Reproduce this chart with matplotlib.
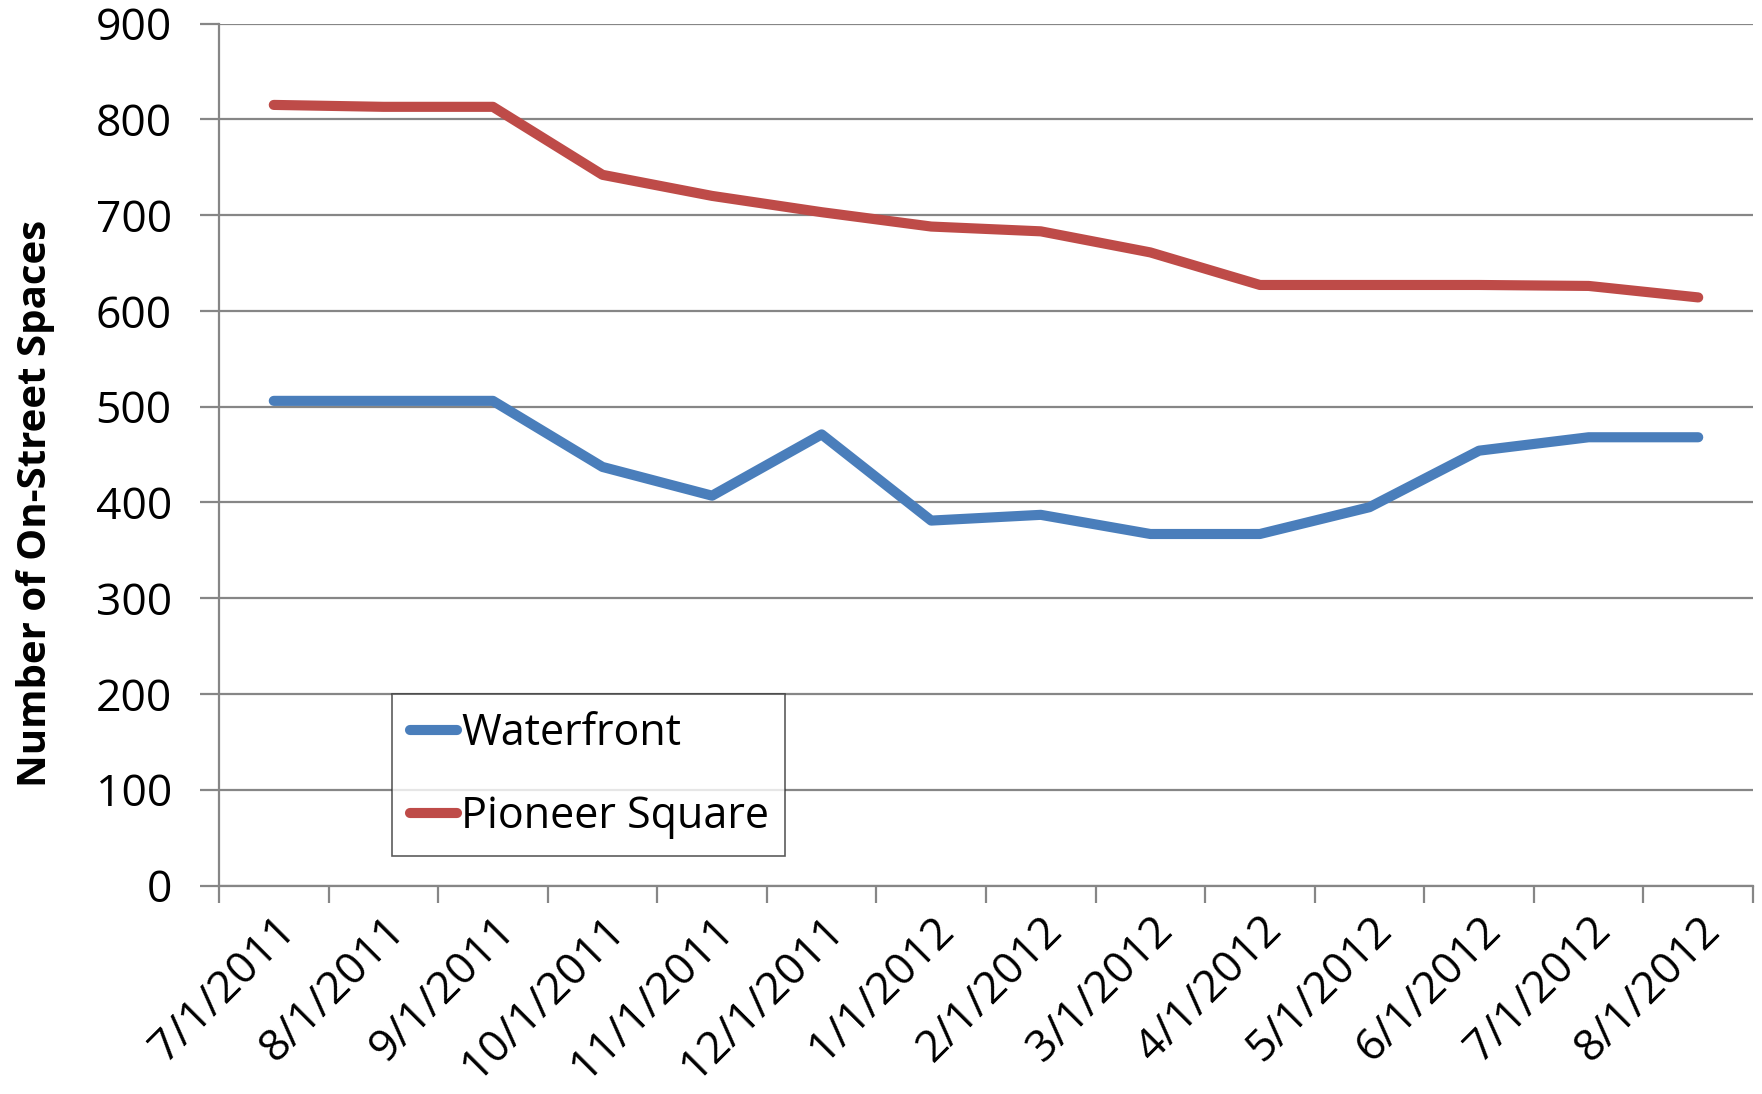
import numpy as np
import matplotlib.pyplot as plt

# data
dates = ["7/1/2011", "8/1/2011", "9/1/2011", "10/1/2011", "11/1/2011", "12/1/2011",
         "1/1/2012", "2/1/2012", "3/1/2012", "4/1/2012", "5/1/2012", "6/1/2012",
         "7/1/2012", "8/1/2012"]
waterfront = [506, 506, 506, 437, 407, 471, 381, 387, 367, 367, 395, 454, 468, 468]
pioneer_square = [815, 813, 813, 742, 720, 703, 688, 683, 661, 627, 627, 627, 626, 614]

plt.rcParams["font.family"] = ["Open Sans", "DejaVu Sans"]

fig = plt.figure(figsize=(17.62, 10.94), dpi=100)
ax = fig.add_axes([219 / 1762, 1 - 885.5 / 1094, 1534 / 1762, 862 / 1094])

x = np.arange(len(dates))
ax.plot(x, waterfront, color="#4A7EBB", linewidth=7.3, solid_capstyle="round",
        label="Waterfront")
ax.plot(x, pioneer_square, color="#BE4B48", linewidth=7.3, solid_capstyle="round",
        label="Pioneer Square")

grid_color = "#868686"
ax.set_xlim(-0.5, len(dates) - 0.5)
ax.set_ylim(0, 900)
ax.set_yticks(range(0, 1000, 100))
ax.yaxis.grid(True, color=grid_color, linewidth=1.6)
ax.set_axisbelow(True)

# tick marks between categories, labels at category centres
ax.set_xticks(np.arange(-0.5, len(dates)), labels=[])
ax.set_xticks(x, labels=dates, minor=True)
ax.tick_params(axis="x", which="major", length=12, width=1.6, color=grid_color,
               direction="out")
ax.tick_params(axis="x", which="minor", length=0, pad=16, labelsize=32)
for lbl in ax.get_xticklabels(minor=True):
    lbl.set_rotation(45)
    lbl.set_ha("right")
    lbl.set_va("top")
    lbl.set_rotation_mode("anchor")
ax.tick_params(axis="y", length=14, width=1.6, color=grid_color, labelsize=32, pad=20)

for side in ["top", "right"]:
    ax.spines[side].set_visible(False)
for side in ["left", "bottom"]:
    ax.spines[side].set_color(grid_color)
    ax.spines[side].set_linewidth(1.6)

ax.set_ylabel("Number of On-Street Spaces", fontsize=29, fontweight="bold")
ax.yaxis.set_label_coords(-0.107, 0.443)

leg = ax.legend(loc="lower left", bbox_to_anchor=(0.113, 0.034, 0.256, 0.189),
                mode="expand", fontsize=31, frameon=True, fancybox=False,
                handlelength=1.1, handletextpad=0.1, borderaxespad=0,
                labelspacing=0.9, borderpad=0.4, handleheight=0.7)
leg.get_frame().set_edgecolor("#333333")
leg.get_frame().set_linewidth(1.2)

fig.savefig("out.png", dpi=100)
